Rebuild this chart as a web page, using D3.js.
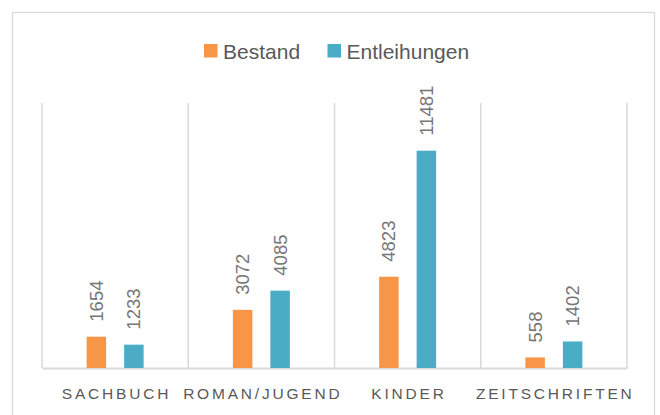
<!DOCTYPE html>
<html>
<head>
<meta charset="utf-8">
<script src="https://cdn.jsdelivr.net/npm/d3@7/dist/d3.min.js"></script>
<style>
  html, body { margin: 0; padding: 0; background: #fff; }
  svg { display: block; }
</style>
</head>
<body>
<script>
const categories = ["SACHBUCH", "ROMAN/JUGEND", "KINDER", "ZEITSCHRIFTEN"];
const seriesNames = ["Bestand", "Entleihungen"];
const bestand = [1654, 3072, 4823, 558];
const entleihungen = [1233, 4085, 11481, 1402];
const seriesColors = ["#F79646", "#4BACC6"];

const W = 660, H = 415;
const svg = d3.select("body").append("svg").attr("width", W).attr("height", H);

// chart frame
svg.append("rect")
  .attr("x", 12.5).attr("y", 12.5)
  .attr("width", 642).attr("height", 420)
  .attr("fill", "#fff").attr("stroke", "#d9d9d9").attr("stroke-width", 1.3);

const plot = { left: 42, right: 627, top: 103, bottom: 368 };

const x = d3.scaleBand().domain(categories).range([plot.left, plot.right]).padding(0);
const bw = x.bandwidth();
const xInner = d3.scaleBand().domain(seriesNames)
  .range([bw / 2 - 28.5, bw / 2 + 28.5]).paddingInner(0.48).paddingOuter(0);
const y = d3.scaleLinear().domain([0, 14000]).range([plot.bottom, plot.top]);

// vertical category separators
const bounds = categories.map(c => x(c)).concat([plot.right]);
svg.append("g").selectAll("line").data(bounds).join("line")
  .attr("x1", d => d).attr("x2", d => d)
  .attr("y1", plot.top).attr("y2", plot.bottom)
  .attr("stroke", "#d9d9d9").attr("stroke-width", 1.5);

// baseline axis
const xAxis = d3.axisBottom(x).tickSize(0).tickPadding(0);
const axG = svg.append("g").attr("transform", `translate(0,${plot.bottom})`).call(xAxis);
axG.select(".domain").attr("stroke", "#d9d9d9").attr("stroke-width", 2);
axG.selectAll(".tick text")
  .attr("y", 31)
  .attr("dy", 0)
  .attr("dx", "1.4px")
  .attr("font-family", "Liberation Sans, Arial, sans-serif")
  .attr("font-size", 15.5)
  .attr("letter-spacing", "2.8px")
  .attr("fill", "#595959");

// bars
const data = [];
categories.forEach((c, i) => {
  data.push({ cat: c, s: seriesNames[0], v: bestand[i], color: seriesColors[0] });
  data.push({ cat: c, s: seriesNames[1], v: entleihungen[i], color: seriesColors[1] });
});

svg.append("g").selectAll("rect").data(data).join("rect")
  .attr("x", d => x(d.cat) + xInner(d.s))
  .attr("y", d => y(d.v))
  .attr("width", xInner.bandwidth())
  .attr("height", d => y(0) - y(d.v))
  .attr("fill", d => d.color);

// data labels (rotated)
svg.append("g").selectAll("text").data(data).join("text")
  .attr("transform", d => {
    const cx = x(d.cat) + xInner(d.s) + xInner.bandwidth() / 2 + 6.5;
    const cy = y(d.v) - 15;
    return `translate(${cx},${cy}) rotate(-90)`;
  })
  .attr("text-anchor", "start")
  .attr("font-family", "Liberation Sans, Arial, sans-serif")
  .attr("font-size", 18.5)
  .attr("fill", "#767676")
  .text(d => d.v);

// legend
const legend = svg.append("g");
const legendItems = [
  { name: seriesNames[0], color: seriesColors[0], x: 204 },
  { name: seriesNames[1], color: seriesColors[1], x: 327.5 }
];
legendItems.forEach(it => {
  legend.append("rect").attr("x", it.x).attr("y", 44).attr("width", 13.5).attr("height", 13.5).attr("fill", it.color);
  legend.append("text").attr("x", it.x + 19).attr("y", 58.5)
    .attr("font-family", "Liberation Sans, Arial, sans-serif")
    .attr("font-size", 21).attr("fill", "#595959").text(it.name);
});
</script>
</body>
</html>
